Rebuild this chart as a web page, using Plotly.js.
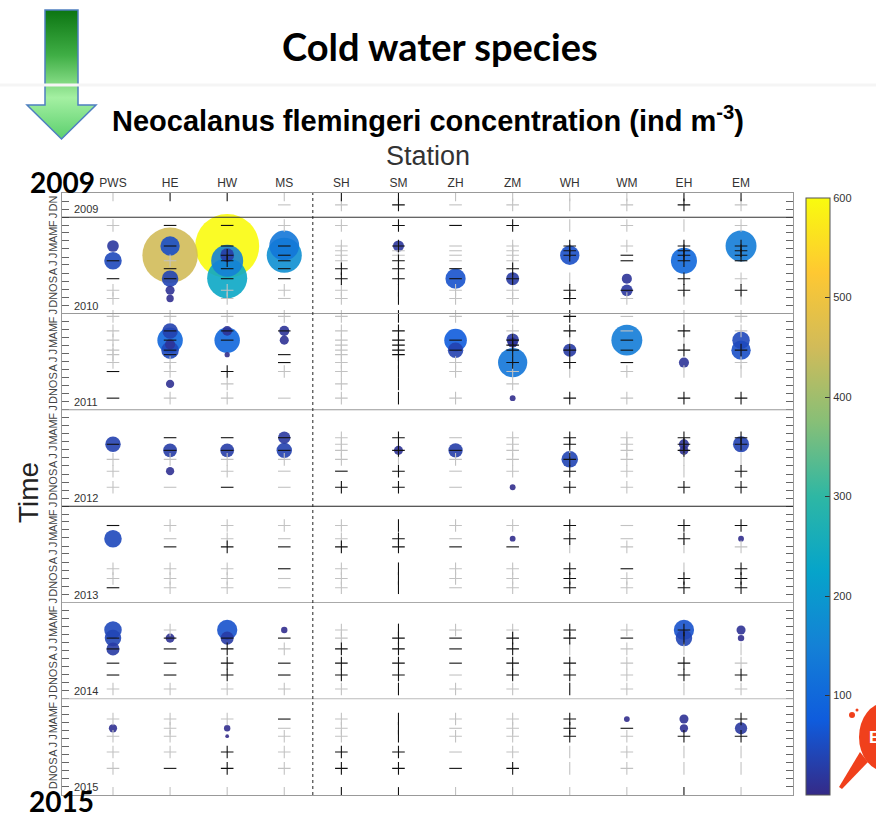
<!DOCTYPE html>
<html>
<head>
<meta charset="utf-8">
<script src="https://cdn.plot.ly/plotly-3.0.1.min.js"></script>
<style>html,body{margin:0;padding:0;background:#fff}#chart{width:876px;height:815px}</style>
</head>
<body>
<div id="chart"></div>
<script>
// ---------------- DATA ----------------
const stations = ['PWS','HE','HW','MS','SH','SM','ZH','ZM','WH','WM','EH','EM'];
const monthLetters = ['J','F','M','A','M','J','J','A','S','O','N','D'];
const years = [2009,2010,2011,2012,2013,2014,2015];

// bubbles: concentration (ind m^-3)
const bubbleStation = ['PWS','PWS','HE','HE','HE','HE','HE','HW','HW','HW','HW','MS','MS','SM','ZH','ZM','WH','WM','WM','EH','EM',
  'HE','HE','HE','HE','HE','HW','HW','HW','MS','MS','ZH','ZH','ZM','ZM','ZM','ZM','WH','WM','EH','EM','EM',
  'PWS','HE','HE','HW','MS','MS','SM','ZH','ZM','WH','EH','EH','EM',
  'PWS','ZM','EM',
  'PWS','PWS','PWS','HE','HW','HW','MS','EH','EH','EM','EM',
  'PWS','HW','HW','WM','EH','EH','EM'];
const bubbleDate = ['2010-04-20','2010-06-15','2010-05-25','2010-04-20','2010-08-22','2010-10-05','2010-11-05','2010-04-20','2010-05-25','2010-06-15','2010-08-20','2010-04-18','2010-05-25','2010-04-20','2010-08-22','2010-08-22','2010-05-25','2010-08-22','2010-10-05','2010-06-15','2010-04-20',
  '2011-03-08','2011-04-12','2011-04-28','2011-05-20','2011-09-25','2011-03-08','2011-04-12','2011-06-06','2011-03-08','2011-04-12','2011-04-12','2011-05-20','2011-04-10','2011-04-22','2011-07-06','2011-11-18','2011-05-20','2011-04-12','2011-07-06','2011-04-12','2011-05-20',
  '2012-05-11','2012-06-03','2012-08-21','2012-06-03','2012-04-16','2012-06-03','2012-06-03','2012-06-03','2012-10-21','2012-07-07','2012-05-11','2012-06-03','2012-05-11',
  '2013-05-04','2013-05-04','2013-05-04',
  '2014-04-15','2014-05-16','2014-06-26','2014-05-16','2014-04-15','2014-05-16','2014-04-15','2014-04-15','2014-05-16','2014-04-15','2014-05-16',
  '2015-04-23','2015-04-23','2015-05-23','2015-03-19','2015-03-19','2015-04-23','2015-04-23'];
const bubbleValue = [20,45,450,55,40,12,8,600,28,150,235,130,180,18,60,25,55,15,20,100,140,
  35,95,15,45,10,14,95,4,15,12,75,35,22,15,125,5,25,140,15,45,55,
  35,28,10,28,22,35,12,30,5,40,15,12,38,
  45,5,5,
  45,40,25,12,60,25,6,60,40,12,6,
  10,6,2,5,12,10,22];

// sampling events: one code per station (P/p black/grey cross, H/h dash, V/v bar, . none)
const sampleDates = ['2009-10-08','2009-11-15',
  '2010-02-01','2010-04-20','2010-05-08','2010-05-25','2010-06-15','2010-07-15','2010-08-22','2010-10-05','2010-11-05',
  '2011-01-12','2011-03-08','2011-04-12','2011-05-01','2011-05-20','2011-06-06','2011-07-06','2011-08-09','2011-09-25','2011-11-18',
  '2012-04-16','2012-05-11','2012-06-03','2012-07-07','2012-08-21','2012-10-21',
  '2013-03-15','2013-05-04','2013-06-04','2013-08-26','2013-10-02','2013-11-06',
  '2014-04-15','2014-05-16','2014-06-26','2014-08-19','2014-10-03','2014-11-25',
  '2015-03-19','2015-04-23','2015-05-23','2015-07-22','2015-09-22','2015-12-26'];
const sampleCodes = ['vVVvVVvvvvVV','...hpPhpvpPp',
  'pHHppPHPvpvp','.HHHpPhpPpPP','....pphpP.PP','..PHpphpPHPP','HpPHpPhp.HPH','.HHHPPHP....','HHHHPPHPv.Pp','p.pppVppPHPP','p.phpVppPpvv',
  'pppppVppPhvp','pHHHpP.pPhPp','pHH.pPHPvHv.','....pP.P....','pH..pPHPPHPP','pH.HpP......','pp.HpVpPPH.p','HpPppVppvpvv','..p.pV.p....','HpphpVp.PpPP',
  '.HHHpPhpPpPP','H...p..pPpPP','.HHHpPHpvpP.','pppppvppPpvv','p.phHPhpPpvP','phHhPPh.PpPP',
  'HppppVppPhPP','.hphpPh.PhP.','.HPHPPHHvpvp','pppHpVppPHvP','ppphpVppPpPP','HpphpVhpPpPP',
  '.p..pVppPpP.','HHHHpPHPPHV.','HHPpPPHPvpvv','HHPHPPHPPpPp','HHPHPPhPPpPP','pppppVppVpvp',
  'pppHpVppP..P','.p.hpVhpPH..','pp.ppVppPpPP','ppPpPPhpvpvv','pHPpPPHPvpvv','vvvvVVvvvvVv'];

const colorTicks = [100,200,300,400,500,600];

// ---------------- HELPERS ----------------
const L = 62, R = 793, T = 193, B = 795;
const X = px => (px - L) / (R - L);
const Y = py => (B - py) / (B - T);

const parula = [[0,'#352a87'],[0.125,'#0f5cdd'],[0.25,'#1481d6'],[0.375,'#06a4ca'],[0.5,'#2eb7a4'],[0.625,'#87bf77'],[0.75,'#d1bb59'],[0.875,'#fec832'],[1,'#f9fb0e']];

// month ticks
const tickVals = [], tickText = [];
years.forEach(y => monthLetters.forEach((m, i) => {
  if (y === 2009 && i < 10) return;
  tickVals.push(y + '-' + String(i + 1).padStart(2, '0') + '-01');
  tickText.push(m);
}));

// bubbles, drawn largest first
const order = bubbleValue.map((v, i) => i).sort((a, b) => bubbleValue[b] - bubbleValue[a]);
const bubbles = {
  type: 'scatter', mode: 'markers',
  x: order.map(i => bubbleStation[i]), y: order.map(i => bubbleDate[i]),
  marker: {
    size: order.map(i => bubbleValue[i]), sizemode: 'area', sizeref: 2 * 600 / (64 * 64),
    color: order.map(i => bubbleValue[i]), colorscale: parula, cmin: 0, cmax: 600,
    opacity: 0.9, line: {width: 0},
    colorbar: {
      x: X(806), xanchor: 'left', xpad: 0, y: 0, yanchor: 'bottom', ypad: 0,
      thickness: 24, thicknessmode: 'pixels', len: 597, lenmode: 'pixels',
      outlinecolor: '#555', outlinewidth: 1,
      tickvals: colorTicks, ticks: 'inside', ticklen: 5, tickcolor: '#333',
      tickfont: {family: 'Liberation Sans, Arial', size: 11, color: '#333'}
    }
  },
  hoverinfo: 'x+y+text', text: order.map(i => bubbleValue[i]), showlegend: false
};

// sample marks
const styles = {
  P: {symbol: 'cross-thin', color: '#111'}, p: {symbol: 'cross-thin', color: '#c2c2c2'},
  H: {symbol: 'line-ew', color: '#111'}, h: {symbol: 'line-ew', color: '#c2c2c2'},
  V: {symbol: 'line-ns', color: '#111'}, v: {symbol: 'line-ns', color: '#c2c2c2'}
};
const markTraces = ['p','h','v','P','H','V'].map(code => {
  const xs = [], ys = [];
  sampleCodes.forEach((row, r) => row.split('').forEach((c, s) => {
    if (c === code) { xs.push(stations[s]); ys.push(sampleDates[r]); }
  }));
  return {type: 'scatter', mode: 'markers', x: xs, y: ys, hoverinfo: 'skip', showlegend: false,
    marker: {symbol: styles[code].symbol, size: 9, color: styles[code].color,
      line: {color: styles[code].color, width: 1.1}}};
});

// shapes
const sepColors = {2010: '#333', 2011: '#999', 2012: '#999', 2013: '#222', 2014: '#aaa', 2015: '#bbb'};
const shapes = years.slice(1).map(y => ({type: 'line', xref: 'paper', x0: 0, x1: 1, yref: 'y',
  y0: y + '-01-01', y1: y + '-01-01', line: {color: sepColors[y], width: 1.2}}));
shapes.push({type: 'line', xref: 'x', x0: 3.5, x1: 3.5, yref: 'paper', y0: 0, y1: 1,
  line: {color: '#222', width: 1, dash: 'dot'}});
shapes.push({type: 'line', xref: 'paper', x0: X(0), x1: X(876), yref: 'paper', y0: Y(85), y1: Y(85),
  line: {color: '#f5f5f5', width: 3}});

// annotations
const txt = (px, py, text, font, extra) => Object.assign({xref: 'paper', yref: 'paper', x: X(px), y: Y(py),
  xanchor: 'center', yanchor: 'middle', text: text, showarrow: false, font: font}, extra || {});
const annotations = years.map(y => ({xref: 'paper', yref: 'y', x: X(72), y: (y + 1) + '-01-01',
  xanchor: 'left', yanchor: 'bottom', yshift: 0, text: String(y), showarrow: false,
  font: {family: 'Liberation Sans, Arial', size: 11, color: '#333'}}));
annotations.push(
  txt(440, 46, '<b>Cold water species</b>', {family: 'Lato, Open Sans', size: 38, color: '#000'}),
  txt(428, 119, '<b>Neocalanus flemingeri concentration (ind m<sup>-3</sup>)</b>', {family: 'Liberation Sans, Arial', size: 29, color: '#000'}),
  txt(428, 156, 'Station', {family: 'Liberation Sans, Arial', size: 27, color: '#333'}),
  txt(28, 493, 'Time', {family: 'Liberation Sans, Arial', size: 28, color: '#222'}, {textangle: -90}),
  txt(62, 182, '<b>2009</b>', {family: 'Lato, Open Sans', size: 28, color: '#000'}),
  txt(61, 801, '<b>2015</b>', {family: 'Lato, Open Sans', size: 28, color: '#000'}),
  txt(874, 737, '<b>E</b>', {family: 'Liberation Sans, Arial', size: 17, color: '#fff'})
);

// decorative images
const arrowSvg = "<svg xmlns='http://www.w3.org/2000/svg' width='73' height='133' viewBox='0 0 73 133'>" +
  "<defs><linearGradient id='g' x1='0' y1='0' x2='0' y2='1'>" +
  "<stop offset='0' stop-color='#0c7512'/><stop offset='0.35' stop-color='#3fae45'/><stop offset='0.68' stop-color='#a4f0a2'/><stop offset='1' stop-color='#5ccf6e'/>" +
  "</linearGradient></defs>" +
  "<path d='M20 2 H53 V97 H71 L36.5 131 L2 97 H20 Z' fill='url(#g)' stroke='#4f7fc0' stroke-width='1.5'/></svg>";
const logoSvg = "<svg xmlns='http://www.w3.org/2000/svg' width='40' height='110' viewBox='0 0 40 110'>" +
  "<ellipse cx='47' cy='47' rx='26' ry='34' fill='#f0401c'/>" +
  "<path d='M22 62 L1 97 L4 99 L30 72 Z' fill='#f0401c'/>" +
  "<circle cx='14' cy='25' r='3' fill='#f0401c'/><circle cx='19' cy='20' r='1.5' fill='#f0401c'/></svg>";
const images = [
  {source: 'data:image/svg+xml;charset=utf-8,' + encodeURIComponent(arrowSvg), xref: 'paper', yref: 'paper',
   x: X(25), y: Y(8), sizex: 73 / (R - L), sizey: 133 / (B - T), sizing: 'stretch', xanchor: 'left', yanchor: 'top', layer: 'above'},
  {source: 'data:image/svg+xml;charset=utf-8,' + encodeURIComponent(logoSvg), xref: 'paper', yref: 'paper',
   x: X(838), y: Y(690), sizex: 40 / (R - L), sizey: 110 / (B - T), sizing: 'stretch', xanchor: 'left', yanchor: 'top', layer: 'below'}
];

const layout = {
  width: 876, height: 815,
  margin: {l: L, r: 876 - R, t: T, b: 815 - B, pad: 0},
  paper_bgcolor: '#fff', plot_bgcolor: '#fff',
  showlegend: false,
  xaxis: {
    type: 'category', categoryorder: 'array', categoryarray: stations,
    range: [-0.893, 11.91], side: 'top', ticks: '', showgrid: false, zeroline: false,
    showline: true, mirror: true, linecolor: '#999', linewidth: 1,
    tickfont: {family: 'Liberation Sans, Arial', size: 12, color: '#333'}
  },
  yaxis: {
    type: 'date', range: ['2016-01-01', '2009-10-01'], autorange: false,
    tickmode: 'array', tickvals: tickVals, ticktext: tickText, tickangle: -90,
    ticks: 'inside', ticklen: 7, tickcolor: '#666', tickwidth: 1, mirror: 'ticks',
    showline: true, linecolor: '#999', linewidth: 1, showgrid: false, zeroline: false,
    tickfont: {family: 'Liberation Sans, Arial', size: 11, color: '#444'}
  },
  shapes: shapes, annotations: annotations, images: images
};

Plotly.newPlot('chart', [bubbles].concat(markTraces), layout, {displayModeBar: false, staticPlot: true});
</script>
</body>
</html>
